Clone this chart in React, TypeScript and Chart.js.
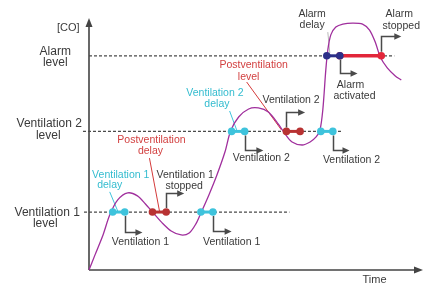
import React, { useEffect, useRef } from "react";
import { Chart, registerables } from "chart.js";
Chart.register(...registerables);

// CO concentration curve over time (arbitrary units)
const curveTime = [0, 1.8, 4.2, 6.2, 8.6, 11.6, 14.5, 16.9, 19, 21.7, 24.6, 27.6, 30, 32, 33.5, 35.9, 38.3, 40.7, 42.4, 44.8, 47.8, 50.7, 53.7, 56.7, 58.5, 60.8, 63.8, 66.2, 68, 69.1, 70, 70.9, 71.5, 72.4, 73.9, 76, 78.9, 81.9, 84, 85.8, 87.2, 89.3, 91.7, 93.5];
const curveCO = [0, 6, 13.9, 21.8, 27.8, 30.6, 29.4, 26.2, 23, 19, 15.5, 13.9, 14.7, 18.3, 22.6, 29.8, 37.7, 46.8, 55.2, 60.7, 63.9, 64.3, 62.7, 57.9, 54.4, 50.8, 49.6, 50.8, 52.8, 55.2, 63.5, 79.4, 87.3, 93.3, 96.4, 97.6, 98, 97.6, 95.2, 90.1, 84.5, 80.2, 77, 75.4];

// threshold levels
const levelValues = [23, 55, 85];
const levelStart = [-1.5, -1.8, 0];
const levelEnd = [60, 76, 91.4];

// timed segments on the levels
const segStart = [7.1, 19.0, 33.5, 42.7, 59.1, 69.4, 71.2, 75.1];
const segEnd = [10.7, 23.1, 37.1, 46.6, 63.2, 73.0, 75.1, 87.5];
const segLevel = [23, 23, 23, 55, 55, 55, 85, 85];
const segKind = ["delay", "post", "delay", "delay", "post", "delay", "alarmDelay", "alarm"];

// step arrows: start x, start level, turn y, end x
const arrowX = [10.7, 23.1, 37.1, 46.6, 59.1, 73.0, 75.1, 87.5];
const arrowFromY = [23, 23, 23, 55, 55, 55, 85, 85];
const arrowTurnY = [15.1, 30.6, 15.5, 47.6, 62.7, 47.6, 78.2, 92.9];
const arrowEndX = [16.0, 28.5, 42.7, 52.2, 64.7, 78.0, 80.4, 93.5];

// leader lines
const leaderX1 = [6.2, 18.1, 42.1, 47.2, 71.5];
const leaderY1 = [31.0, 44.4, 63.1, 74.6, 94.4];
const leaderX2 = [8.6, 21.1, 44.2, 57.6, 72.1];
const leaderY2 = [23.4, 23.4, 55.6, 55.6, 86.1];
const leaderKind = ["cyan", "red", "cyan", "red", "gray"];

// text labels
const labelText = ["[CO]", "Alarm", "level", "Ventilation 2", "level", "Ventilation 1", "level", "Time",
  "Ventilation 1", "delay", "Ventilation 1", "Postventilation", "delay", "Ventilation 1", "stopped", "Ventilation 1",
  "Ventilation 2", "delay", "Postventilation", "level", "Ventilation 2", "Ventilation 2", "Ventilation 2",
  "Alarm", "delay", "Alarm", "stopped", "Alarm", "activated"];
const labelX = [-6.2, -10.1, -10.1, -11.9, -12.2, -12.5, -13.1, 85.5,
  9.5, 6.2, 15.4, 18.7, 18.4, 28.8, 28.5, 42.7,
  37.7, 38.3, 49.3, 47.8, 51.6, 60.5, 78.6,
  66.8, 66.8, 92.9, 93.5, 78.3, 79.5];
const labelY = [96.0, 86.5, 82.1, 57.9, 53.2, 22.6, 18.3, -4.0,
  37.7, 33.7, 11.1, 51.6, 47.2, 37.7, 33.3, 11.1,
  70.2, 65.9, 81.3, 76.6, 44.4, 67.5, 43.7,
  101.6, 97.2, 101.6, 96.8, 73.4, 69.0];
const labelKind = ["axis", "axisBig", "axisBig", "axisBig", "axisBig", "axisBig", "axisBig", "axis",
  "cyan", "cyan", "dark", "red", "red", "dark", "dark", "dark",
  "cyan", "cyan", "red", "red", "dark", "dark", "dark",
  "dark", "dark", "dark", "dark", "dark", "dark"];

const PURPLE = "#a02f9d";
const CYAN = "#3ec3dc";
const DARKRED = "#b83232";
const ALARMRED = "#e2263a";
const NAVY = "#2c2f88";
const GRAY = "#444444";
const FONT = "'Liberation Sans', Arial, sans-serif";

const segColor = (k: string) =>
  k === "delay" ? CYAN : k === "post" ? DARKRED : k === "alarmDelay" ? NAVY : ALARMRED;

const overlay = {
  id: "overlay",
  beforeDatasetsDraw(chart: any) {
    const { ctx, scales } = chart;
    const xs = scales.x, ys = scales.y;
    ctx.save();
    // axes
    const x0 = xs.getPixelForValue(0), y0 = ys.getPixelForValue(0);
    const xTop = ys.getPixelForValue(100), xRight = xs.getPixelForValue(100);
    ctx.strokeStyle = GRAY;
    ctx.fillStyle = GRAY;
    ctx.lineWidth = 1.6;
    ctx.beginPath();
    ctx.moveTo(x0, y0);
    ctx.lineTo(x0, xTop + 5);
    ctx.moveTo(x0, y0);
    ctx.lineTo(xRight - 5, y0);
    ctx.stroke();
    ctx.beginPath();
    ctx.moveTo(x0, xTop);
    ctx.lineTo(x0 - 3.5, xTop + 9);
    ctx.lineTo(x0 + 3.5, xTop + 9);
    ctx.closePath();
    ctx.fill();
    ctx.beginPath();
    ctx.moveTo(xRight, y0);
    ctx.lineTo(xRight - 9, y0 - 3.5);
    ctx.lineTo(xRight - 9, y0 + 3.5);
    ctx.closePath();
    ctx.fill();
    // leaders
    ctx.lineWidth = 1;
    leaderX1.forEach((_, i) => {
      const k = leaderKind[i];
      ctx.strokeStyle = k === "cyan" ? CYAN : k === "red" ? "#d43a3a" : "#b8b8b8";
      ctx.beginPath();
      ctx.moveTo(xs.getPixelForValue(leaderX1[i]), ys.getPixelForValue(leaderY1[i]));
      ctx.lineTo(xs.getPixelForValue(leaderX2[i]), ys.getPixelForValue(leaderY2[i]));
      ctx.stroke();
    });
    ctx.restore();
  },
  afterDatasetsDraw(chart: any) {
    const { ctx, scales } = chart;
    const xs = scales.x, ys = scales.y;
    ctx.save();
    // arrows
    ctx.strokeStyle = "#4a4a4a";
    ctx.fillStyle = "#4a4a4a";
    ctx.lineWidth = 1.5;
    arrowX.forEach((_, i) => {
      const ax = Math.round(xs.getPixelForValue(arrowX[i])) + 0.5;
      const ay = ys.getPixelForValue(arrowFromY[i]);
      const ty = Math.round(ys.getPixelForValue(arrowTurnY[i])) + 0.5;
      const ex = xs.getPixelForValue(arrowEndX[i]);
      const dir = ty < ay ? -1 : 1;
      ctx.beginPath();
      ctx.moveTo(ax, ay + dir * 4);
      ctx.lineTo(ax, ty);
      ctx.lineTo(ex - 5, ty);
      ctx.stroke();
      ctx.beginPath();
      ctx.moveTo(ex, ty);
      ctx.lineTo(ex - 7, ty - 3.2);
      ctx.lineTo(ex - 7, ty + 3.2);
      ctx.closePath();
      ctx.fill();
    });
    // labels
    ctx.textAlign = "center";
    ctx.textBaseline = "middle";
    labelText.forEach((t, i) => {
      const k = labelKind[i];
      let size = 10.5;
      let color = "#3a3a3a";
      if (k === "axisBig") size = 12;
      if (k === "axis") size = 11;
      if (k === "cyan") color = "#33bccf";
      if (k === "red") color = "#d23f3f";
      ctx.font = `${size}px ${FONT}`;
      ctx.fillStyle = color;
      ctx.fillText(t, xs.getPixelForValue(labelX[i]), ys.getPixelForValue(labelY[i]));
    });
    ctx.restore();
  },
};

export default function App() {
  const ref = useRef<HTMLCanvasElement | null>(null);
  useEffect(() => {
    document.body.style.margin = "0";
    const canvas = ref.current;
    if (!canvas) return;
    const datasets: any[] = [];
    segStart.forEach((s, i) => {
      const c = segColor(segKind[i]);
      datasets.push({
        data: [{ x: s, y: segLevel[i] }, { x: segEnd[i], y: segLevel[i] }],
        borderColor: c,
        backgroundColor: c,
        borderWidth: segKind[i] === "alarm" ? 3.5 : 3,
        pointRadius: 3.8,
        pointBackgroundColor: c,
        pointBorderWidth: 0,
        order: 0,
        clip: false,
      });
    });
    datasets.push({
      data: curveTime.map((t, i) => ({ x: t, y: curveCO[i] })),
      borderColor: PURPLE,
      borderWidth: 1.3,
      pointRadius: 0,
      tension: 0.3,
      order: 1,
      clip: false,
    });
    levelValues.forEach((v, i) => {
      datasets.push({
        data: [{ x: levelStart[i], y: v }, { x: levelEnd[i], y: v }],
        borderColor: "#4a4a4a",
        borderWidth: 1.3,
        borderDash: [3, 2],
        pointRadius: 0,
        order: 2,
        clip: false,
      });
    });
    const chart = new Chart(canvas, {
      type: "line",
      data: { datasets },
      options: {
        animation: false,
        responsive: false,
        events: [],
        layout: { padding: { left: 89, right: 1, top: 18, bottom: 16 } },
        plugins: { legend: { display: false }, tooltip: { enabled: false } },
        scales: {
          x: { type: "linear", min: 0, max: 100, display: false },
          y: { type: "linear", min: 0, max: 100, display: false },
        },
      },
      plugins: [overlay],
    });
    return () => chart.destroy();
  }, []);
  return <canvas ref={ref} width={427} height={286} style={{ display: "block" }} />;
}
